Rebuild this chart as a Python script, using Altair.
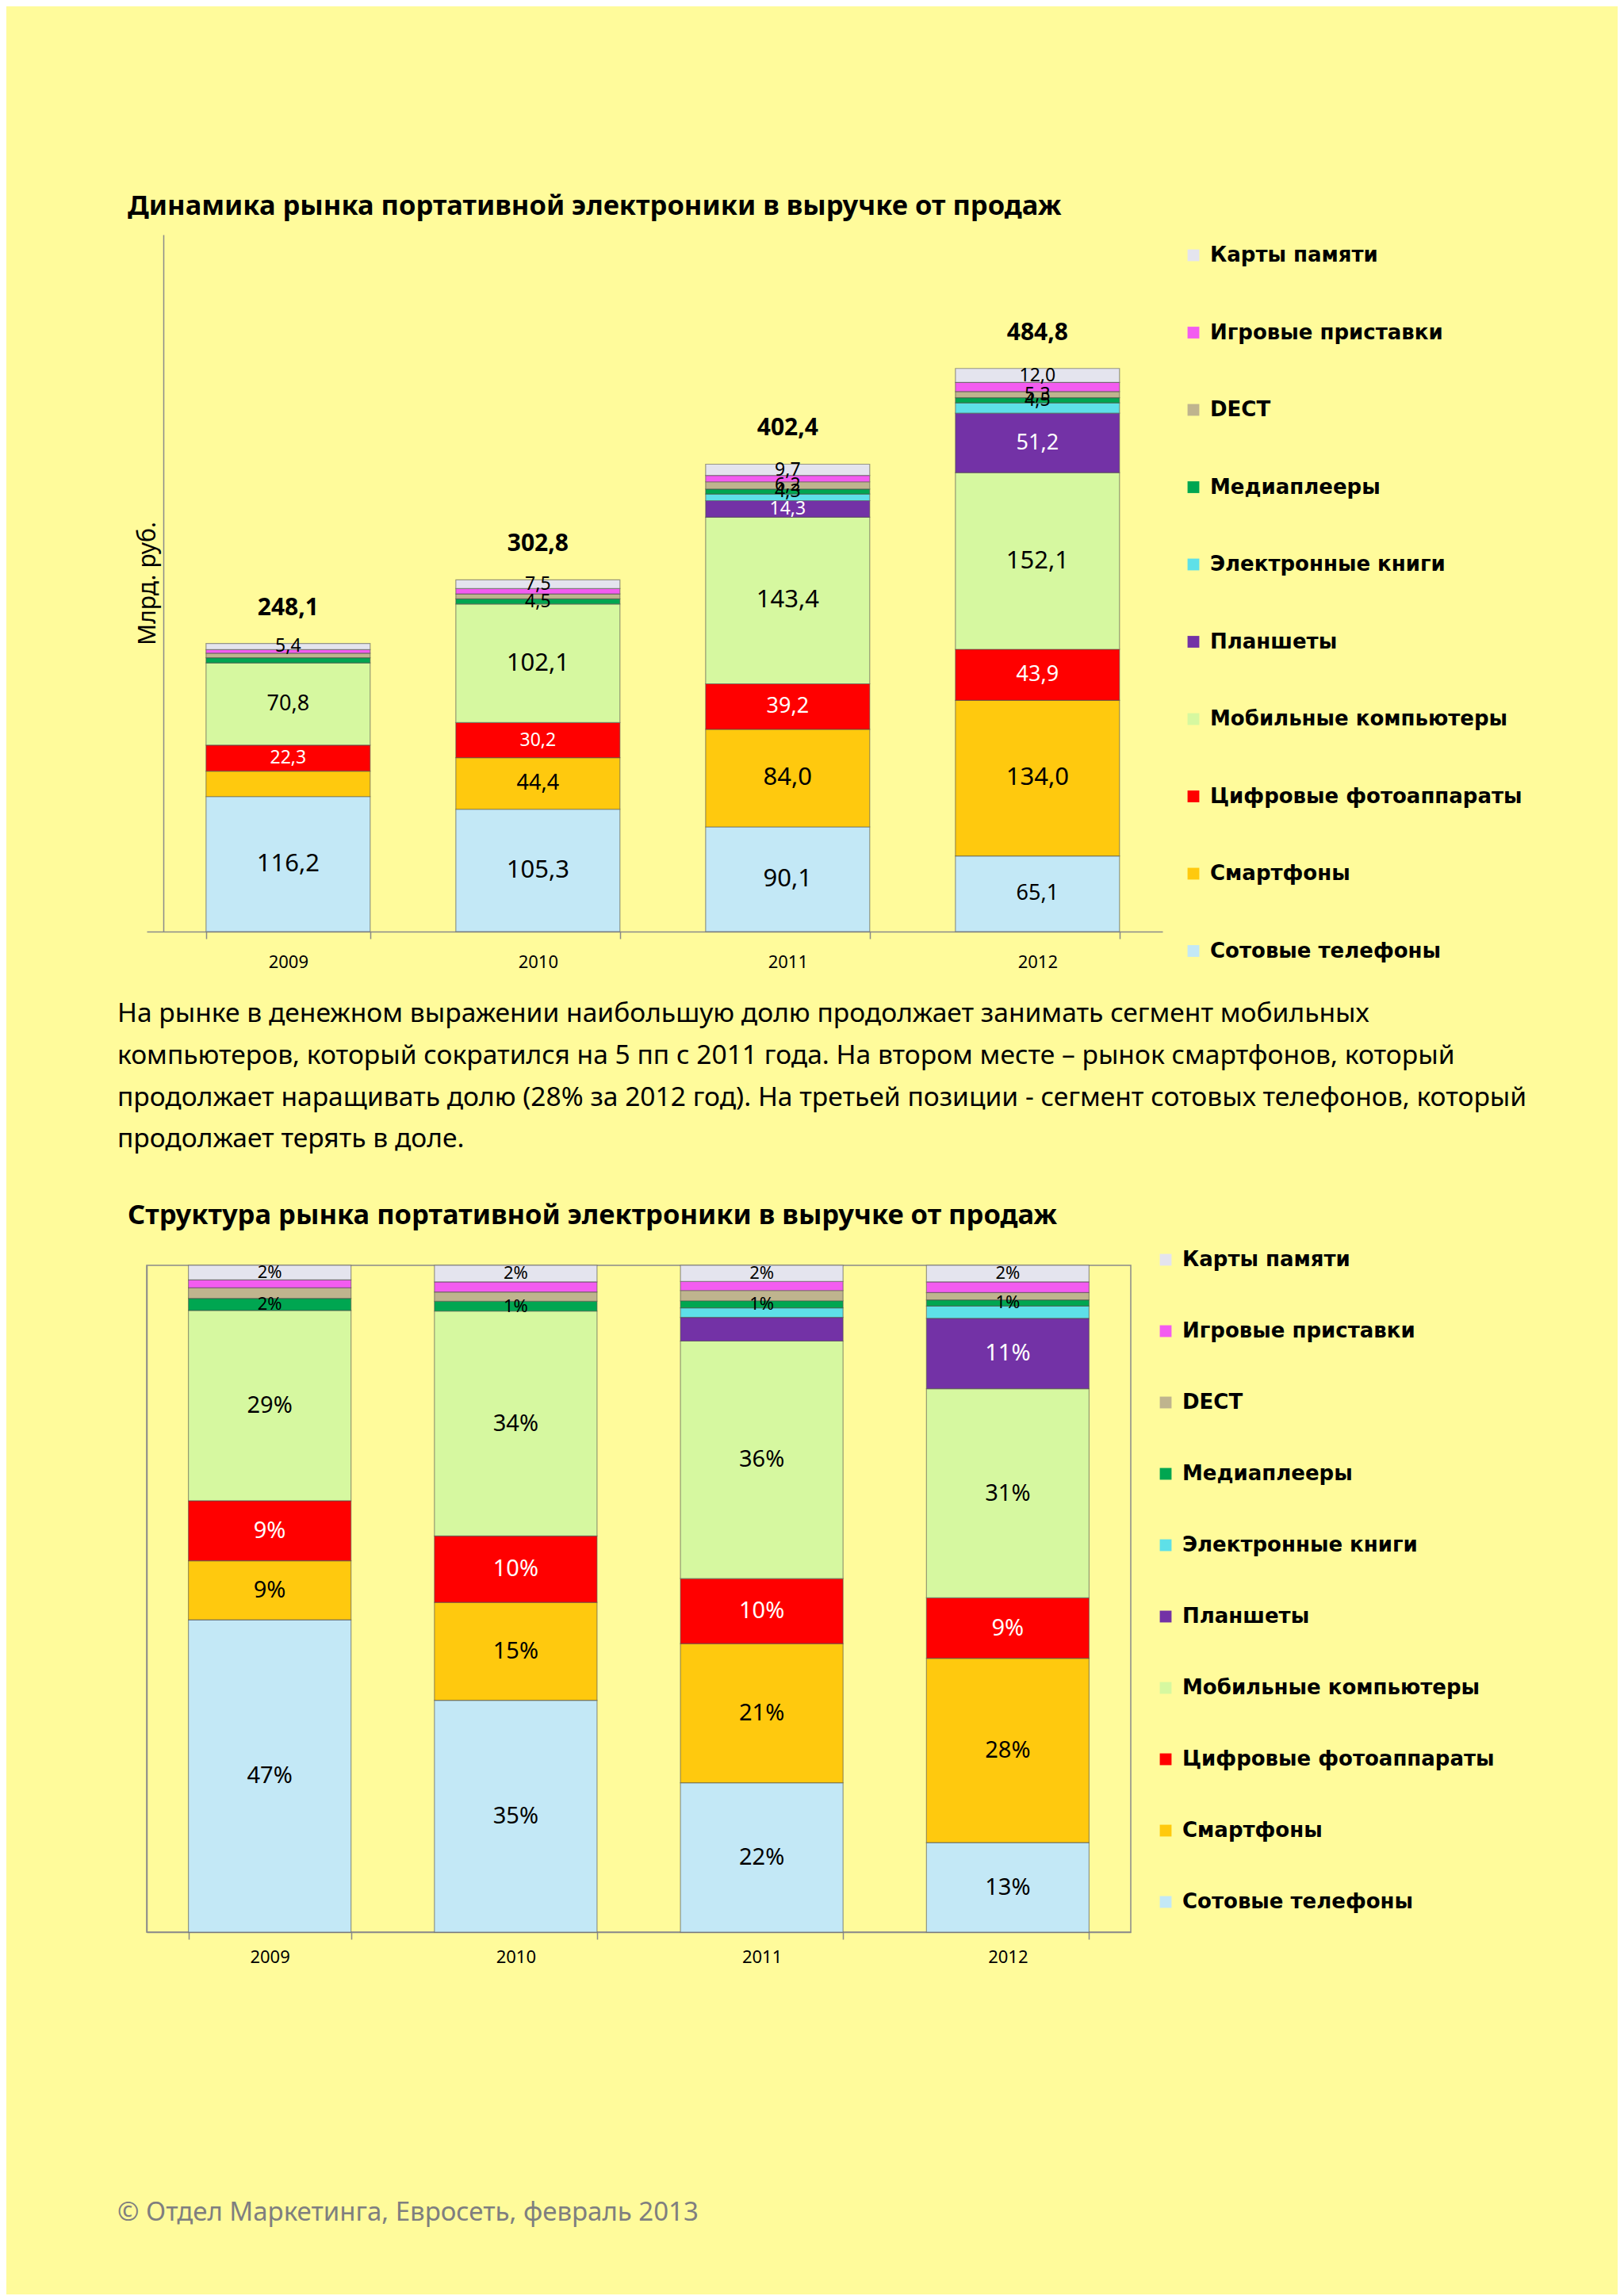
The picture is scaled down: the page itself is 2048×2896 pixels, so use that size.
import altair as alt
import pandas as pd

# ---------------- data ----------------
years = ["2009", "2010", "2011", "2012"]

# stacking order, bottom -> top
series_names = ["Сотовые телефоны", "Смартфоны", "Цифровые фотоаппараты",
                "Мобильные компьютеры", "Планшеты", "Электронные книги",
                "Медиаплееры", "DECT", "Игровые приставки", "Карты памяти"]

cellular      = [116.2, 105.3, 90.1, 65.1]
smartphones   = [22.0, 44.4, 84.0, 134.0]
cameras       = [22.3, 30.2, 39.2, 43.9]
mobile_pcs    = [70.8, 102.1, 143.4, 152.1]
tablets       = [0.0, 0.0, 14.3, 51.2]
ebooks        = [0.0, 0.0, 5.7, 8.9]
media_players = [4.5, 4.5, 4.3, 4.5]
dect          = [3.9, 4.2, 6.2, 5.3]
consoles      = [3.0, 4.6, 5.5, 7.8]
memory_cards  = [5.4, 7.5, 9.7, 12.0]

totals = [248.1, 302.8, 402.4, 484.8]

series_colors = ["#C3E8F6", "#FFC90E", "#FF0000", "#D6F8A0", "#7332A6",
                 "#5EE0E8", "#00A651", "#BFB48E", "#F35CF0", "#E4E4EE"]

# which segments carry a value label
top_labels = {
    "Сотовые телефоны": years,
    "Смартфоны": ["2010", "2011", "2012"],
    "Цифровые фотоаппараты": years,
    "Мобильные компьютеры": years,
    "Планшеты": ["2011", "2012"],
    "Медиаплееры": ["2010", "2011", "2012"],
    "DECT": ["2011", "2012"],
    "Карты памяти": years,
}
share_labels = {
    "Сотовые телефоны": years,
    "Смартфоны": years,
    "Цифровые фотоаппараты": years,
    "Мобильные компьютеры": years,
    "Планшеты": ["2012"],
    "Медиаплееры": years,
    "Карты памяти": years,
}

title_top = "Динамика рынка портативной электроники в выручке от продаж"
title_bottom = "Структура рынка портативной электроники в выручке от продаж"
y_title_top = "Млрд. руб."

text_lines = [
    "На рынке в денежном выражении наибольшую долю продолжает занимать сегмент мобильных",
    "компьютеров, который сократился на 5 пп с 2011 года. На втором месте – рынок смартфонов, который",
    "продолжает наращивать долю (28% за 2012 год). На третьей позиции - сегмент сотовых телефонов, который",
    "продолжает терять в доле.",
]
footer_text = "© Отдел Маркетинга, Евросеть, февраль 2013"

# ---------------- tables ----------------
series_values = [cellular, smartphones, cameras, mobile_pcs, tablets, ebooks,
                 media_players, dect, consoles, memory_cards]
rows = []
for k, (name, vals) in enumerate(zip(series_names, series_values)):
    for yr, v in zip(years, vals):
        rows.append({"year": yr, "series": name, "order": k, "value": v,
                     "lab_top": yr in top_labels.get(name, []),
                     "lab_share": yr in share_labels.get(name, [])})
df = pd.DataFrame(rows)
tot_df = pd.DataFrame({"year": years, "total": totals})

legend_order = series_names[::-1]
legend_colors = series_colors[::-1]

# ---------------- style ----------------
FONT = "Noto Sans"
LEG_FONT = "DejaVu Sans"
BG = "#FFFB9B"
AXIS_C = "#8A8A8A"
X0 = 185          # page x of the plot origins
LEFT_TEXT = 148   # page x of paragraph / footer

color_scale = alt.Scale(domain=legend_order, range=legend_colors)


def legend(x, y, row_pad):
    return alt.Legend(title=None, orient="none", legendX=x, legendY=y, direction="vertical",
                      labelFont=LEG_FONT, labelFontWeight="bold", labelFontSize=26,
                      labelColor="black", labelLimit=900, labelOffset=8,
                      symbolType="square", symbolSize=220, symbolStrokeWidth=0,
                      rowPadding=row_pad)


def x_axis(label_pad):
    return alt.Axis(tickBand="extent", labelAngle=0, labelFont=FONT,
                    labelFontSize=22, labelColor="black", labelPadding=label_pad,
                    domainColor=AXIS_C, tickColor=AXIS_C, tickSize=9,
                    domainWidth=1.5, tickWidth=1.5, grid=False)


bar_style = dict(stroke="#4d4d4d", strokeWidth=1.2, strokeOpacity=0.55)

# ---------------- top chart ----------------
top_base = alt.Chart(df).transform_stack(
    stack="value", as_=["y0", "y1"], groupby=["year"],
    sort=[alt.SortField(field="order", order="ascending")]
).transform_calculate(
    mid="(datum.y0 + datum.y1) / 2",
    lab="replace(format(datum.value, '.1f'), '.', ',')",
    fs="datum.value >= 80 ? 31 : (datum.value >= 35 ? 27 : 23)",
    tc="(datum.series == 'Цифровые фотоаппараты' || datum.series == 'Планшеты') ? 'white' : 'black'",
)

TOP_W = 1281
y_top_scale = alt.Scale(domain=[0, 600], nice=False, zero=True)
y_top_axis = alt.Axis(title=y_title_top, labels=False, ticks=False, grid=False, offset=-21,
                      domainColor=AXIS_C, domainWidth=1.5, titleFont=FONT,
                      titleFontSize=30, titleFontWeight="normal", titleColor="black",
                      titlePadding=5)
x_top = alt.X("year:N", title=None, sort=years,
              scale=alt.Scale(paddingInner=0.343, paddingOuter=0.2048, align=0.58),
              axis=x_axis(19))

bars_top = top_base.transform_filter("datum.value > 0").mark_bar(**bar_style).encode(
    x=x_top,
    y=alt.Y("y0:Q", scale=y_top_scale, axis=y_top_axis),
    y2="y1:Q",
    color=alt.Color("series:N", scale=color_scale, legend=legend(1492 - X0, 13, 71.5)),
)
labels_top = top_base.transform_filter("datum.lab_top").mark_text(
    font=FONT, baseline="middle", align="center"
).encode(
    x=x_top,
    y=alt.Y("mid:Q", scale=y_top_scale, axis=y_top_axis),
    text="lab:N",
    fill=alt.Fill("tc:N", scale=None),
    size=alt.Size("fs:Q", scale=None),
)
totals_top = alt.Chart(tot_df).transform_calculate(
    tl="replace(format(datum.total, '.1f'), '.', ',')"
).mark_text(font=FONT, fontWeight="bold", fontSize=30, baseline="middle", dy=-45, color="black").encode(
    x=x_top,
    y=alt.Y("total:Q", scale=y_top_scale, axis=y_top_axis),
    text="tl:N",
)

top_chart = alt.layer(bars_top, labels_top, totals_top).properties(
    width=TOP_W, height=879,
    title=alt.TitleParams(text=title_top, anchor="start", frame="group", dx=161 - X0,
                          font=FONT, fontSize=34.5, fontWeight="bold", color="black", offset=18),
)

# ---------------- paragraph ----------------
para_df = pd.DataFrame({"i": list(range(len(text_lines))), "line": text_lines})
para = alt.Chart(para_df).mark_text(
    align="left", baseline="middle", font=FONT, fontSize=33.6, color="black"
).encode(
    x=alt.value(LEFT_TEXT - X0),
    y=alt.Y("i:Q", axis=None,
            scale=alt.Scale(domain=[-1.05, 4.455], reverse=True, nice=False, zero=False)),
    text="line:N",
).properties(width=2040 - X0, height=290)

# ---------------- bottom chart ----------------
bot_base = alt.Chart(df).transform_stack(
    stack="value", as_=["y0", "y1"], groupby=["year"], offset="normalize",
    sort=[alt.SortField(field="order", order="ascending")]
).transform_calculate(
    mid="(datum.y0 + datum.y1) / 2",
    lab="format(datum.y1 - datum.y0, '.0%')",
    fs="(datum.y1 - datum.y0) >= 0.05 ? 29 : 22",
    tc="(datum.series == 'Цифровые фотоаппараты' || datum.series == 'Планшеты') ? 'white' : 'black'",
)
y_bot_scale = alt.Scale(domain=[0, 1], nice=False, zero=True)
y_bot_axis = alt.Axis(title=None, labels=False, ticks=False, grid=False,
                      domainColor=AXIS_C, domainWidth=1.5)
x_bot = alt.X("year:N", title=None, sort=years,
              scale=alt.Scale(paddingInner=0.339, paddingOuter=0.1695),
              axis=x_axis(12))

bars_bot = bot_base.transform_filter("datum.value > 0").mark_bar(**bar_style).encode(
    x=x_bot,
    y=alt.Y("y0:Q", scale=y_bot_scale, axis=y_bot_axis),
    y2="y1:Q",
    color=alt.Color("series:N", scale=color_scale, legend=legend(1457 - X0, -20, 64)),
)
labels_bot = bot_base.transform_filter("datum.lab_share").mark_text(
    font=FONT, baseline="middle", align="center"
).encode(
    x=x_bot,
    y=alt.Y("mid:Q", scale=y_bot_scale, axis=y_bot_axis),
    text="lab:N",
    fill=alt.Fill("tc:N", scale=None),
    size=alt.Size("fs:Q", scale=None),
)
bottom_chart = alt.layer(bars_bot, labels_bot).properties(
    width=1241, height=841,
    view=alt.ViewBackground(stroke=AXIS_C, strokeWidth=1.5),
    title=alt.TitleParams(text=title_bottom, anchor="start", frame="group", dx=161 - X0,
                          font=FONT, fontSize=34.5, fontWeight="bold", color="black", offset=25),
)

# ---------------- footer ----------------
foot = alt.Chart(pd.DataFrame({"t": [footer_text]})).mark_text(
    align="left", baseline="middle", font=FONT, fontSize=33, color="#7F7F7F"
).encode(
    x=alt.value(LEFT_TEXT - X0), y=alt.value(311), text="t:N"
).properties(width=2040 - X0, height=394)

chart = alt.vconcat(top_chart, para, bottom_chart, foot, spacing=0).resolve_scale(
    color="independent"
).properties(
    background=BG,
    padding={"left": 140, "top": 234, "right": 0, "bottom": 20},
).configure_view(strokeWidth=0)

chart.save("out.html", embed_options={"renderer": "svg", "actions": False})
